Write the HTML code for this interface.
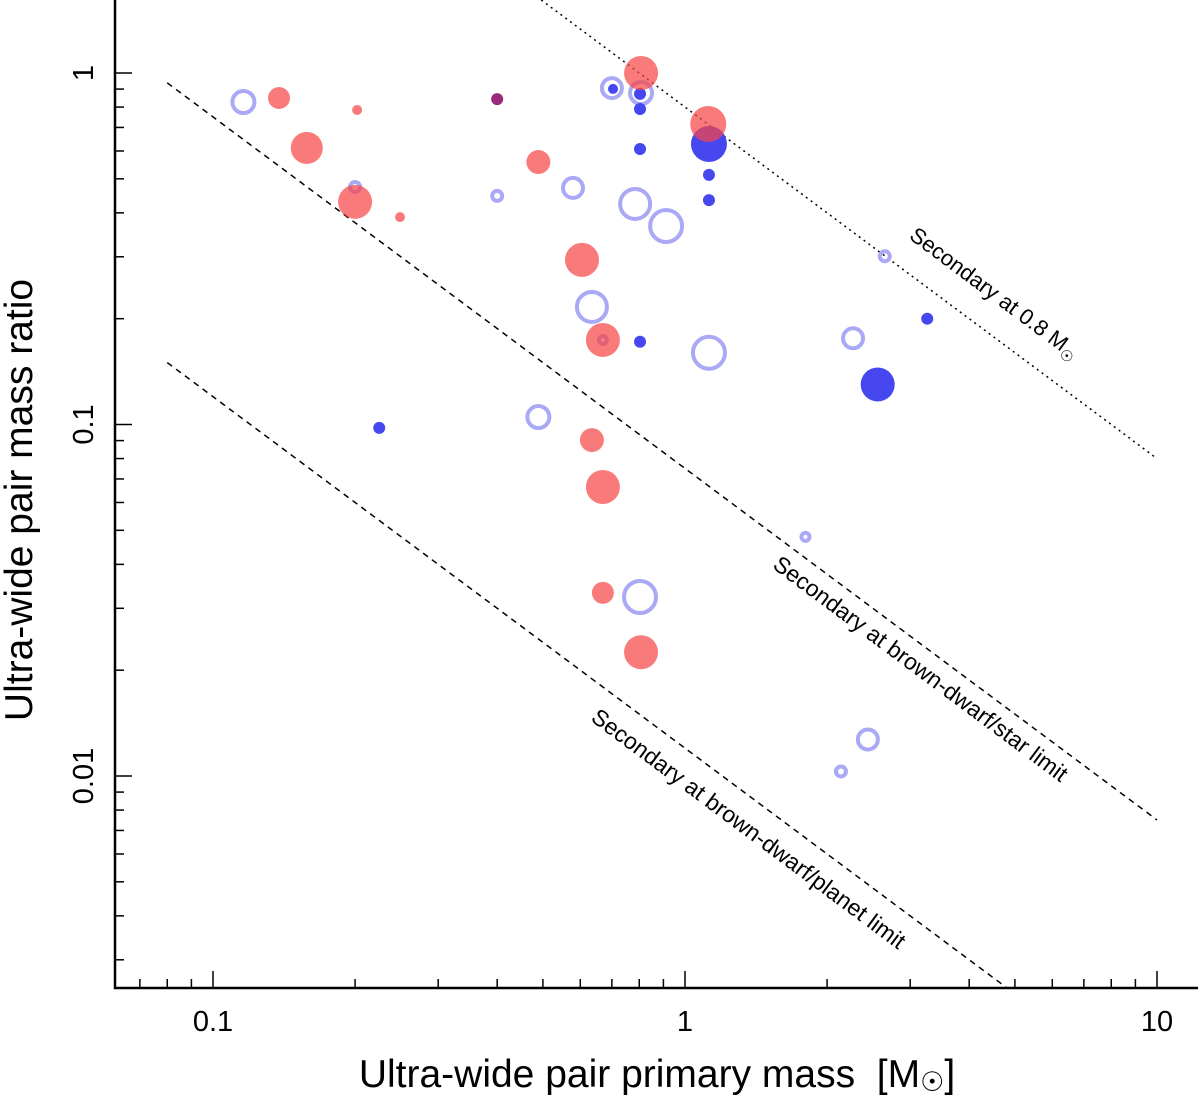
<!DOCTYPE html>
<html><head><meta charset="utf-8"><style>
html,body{margin:0;padding:0;background:#fff;}
svg{display:block;font-family:"Liberation Sans",Arial,sans-serif;}
</style></head><body>
<svg id="chart" width="1200" height="1095" viewBox="0 0 1200 1095" xmlns="http://www.w3.org/2000/svg">
<g id="lines"></g>
<g id="marks"></g>
<g id="axes"></g>
<text x="0" y="0" font-size="22" text-anchor="middle" transform="translate(990,299) rotate(36.7)">Secondary at 0.8 M<tspan font-size="15" dy="5">☉</tspan></text>
<text x="0" y="0" font-size="23" text-anchor="middle" transform="translate(916,675) rotate(36.7)">Secondary at brown-dwarf/star limit</text>
<text x="0" y="0" font-size="23" text-anchor="middle" transform="translate(744,835) rotate(36.7)">Secondary at brown-dwarf/planet limit</text>
<text x="657" y="1087" font-size="39" text-anchor="middle">Ultra-wide pair primary mass&#160;&#160;[M<tspan font-size="27" dy="4">☉</tspan><tspan dy="-4">]</tspan></text>
<text x="0" y="0" font-size="39" text-anchor="middle" transform="translate(32,500) rotate(-90)">Ultra-wide pair mass ratio</text>
</svg>
<script>
const redMass=[0.138,0.158,0.202,0.2,0.249,0.489,0.807,1.12,0.605,0.67,0.635,0.67,0.67,0.807];
const redRatio=[0.849,0.612,0.785,0.43,0.389,0.558,1.0,0.716,0.294,0.174,0.0903,0.0664,0.0332,0.0225];
const redSize=[11,16,5,17,5,12,17,18,17,17,12,17,11,17];
const ringMass=[0.116,0.2,0.4,0.579,0.7,0.807,0.784,0.912,0.635,0.67,1.124,0.489,0.803,1.80,2.27,2.65,2.44,2.14];
const ringRatio=[0.827,0.474,0.447,0.471,0.906,0.877,0.424,0.367,0.216,0.174,0.16,0.105,0.0323,0.0479,0.176,0.301,0.0127,0.0103];
const ringSize=[13,7,7,12,12,13,17,18,17,6,18,13,18,6,12,7,12,7];
const blueMass=[0.225,0.704,0.803,0.803,0.803,0.803,1.124,1.124,1.124,2.56,3.26];
const blueRatio=[0.0978,0.901,0.872,0.79,0.608,0.172,0.628,0.513,0.435,0.130,0.2];
const blueSize=[6,5,6,6,6,6,18,6,6,17,6];
const purpleMass=[0.4];
const purpleRatio=[0.843];
const purpleSize=[6];
const xTickLabels=["0.1","1","10"];
const xTickValues=[0.1,1,10];
const yTickLabels=["0.01","0.1","1"];
const yTickValues=[0.01,0.1,1];
const limitSecondary=[0.8,0.075,0.012];

const NS="http://www.w3.org/2000/svg";
const X0=115,X1=1198,Y0=0,Y1=988;
function sx(m){return 685+472*Math.log10(m);}
function sy(q){return 73-351.5*Math.log10(q);}
function mk(tag,attrs,parent){const e=document.createElementNS(NS,tag);for(const k in attrs)e.setAttribute(k,attrs[k]);parent.appendChild(e);return e;}
const lines=document.getElementById('lines'),marks=document.getElementById('marks'),axes=document.getElementById('axes');

const defs=mk('defs',{},document.getElementById('chart'));
const cp=mk('clipPath',{id:'plotclip'},defs);
mk('rect',{x:X0,y:Y0,width:X1-X0,height:Y1-Y0},cp);
lines.setAttribute('clip-path','url(#plotclip)');

limitSecondary.forEach((s,i)=>{
  const m0=0.08,m1=10;
  const startM=i===0?Math.max(m0,s/Math.pow(10,73/351.5)):m0;
  const l=mk('line',{x1:sx(startM),y1:sy(s/startM),x2:sx(m1),y2:sy(s/m1),stroke:'#000','stroke-width':1.5,'stroke-dasharray':i===0?'2,4':'6,5'},lines);
  
  
});

ringMass.forEach((m,i)=>{
  const c=mk('circle',{cx:sx(m),cy:sy(ringRatio[i]),r:ringSize[i]-2,fill:'none',stroke:'#a9a9f6','stroke-width':4},marks);
  
  
});
blueMass.forEach((m,i)=>{
  const c=mk('circle',{cx:sx(m),cy:sy(blueRatio[i]),r:blueSize[i],fill:'#4747f0'},marks);
  
  
});
redMass.forEach((m,i)=>{
  const c=mk('circle',{cx:sx(m),cy:sy(redRatio[i]),r:redSize[i],fill:'rgba(246,70,70,0.72)'},marks);
  
  
});
purpleMass.forEach((m,i)=>{
  const c=mk('circle',{cx:sx(m),cy:sy(purpleRatio[i]),r:purpleSize[i],fill:'#9a2a7c'},marks);
  
  
});

const ax=mk('path',{d:`M${X0},${Y0} V${Y1} H${X1}`,fill:'none',stroke:'#000','stroke-width':2.5},axes);


for(let d=-2;d<=1;d++){for(let k=1;k<=9;k++){const v=k*Math.pow(10,d);const x=sx(v);if(x<X0+2||x>X1)continue;
  const t=mk('line',{x1:x,y1:Y1,x2:x,y2:Y1-(k===1?17:9),stroke:'#000','stroke-width':1.5},axes);
  
  }}
for(let d=-3;d<=0;d++){for(let k=1;k<=9;k++){const v=k*Math.pow(10,d);const y=sy(v);if(y<Y0+1||y>Y1-2)continue;
  const t=mk('line',{x1:X0,y1:y,x2:X0+(k===1?17:9),y2:y,stroke:'#000','stroke-width':1.5},axes);
  
  }}
xTickLabels.forEach((s,i)=>{
  const t=mk('text',{x:sx(xTickValues[i]),y:1031,'font-size':29,'text-anchor':'middle'},axes);t.textContent=s;
  
  
});
yTickLabels.forEach((s,i)=>{
  const y=sy(yTickValues[i]);
  const t=mk('text',{x:0,y:0,'font-size':29,'text-anchor':'middle',transform:`translate(93,${y}) rotate(-90)`},axes);t.textContent=s;
  
  
});
</script>
</body></html>
